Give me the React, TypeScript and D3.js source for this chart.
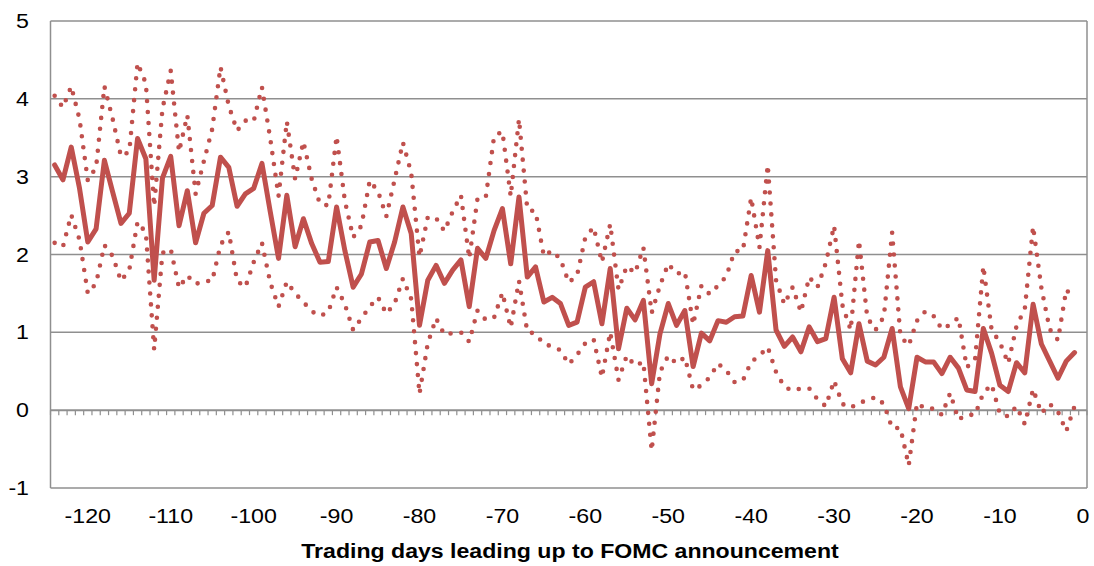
import React from 'react';
import * as d3 from 'd3';

// Categories: trading days -124 .. 0 (0 carries no data)
const days: number[] = d3.range(-124, 1);
const tickDays: number[] = [-120, -110, -100, -90, -80, -70, -60, -50, -40, -30, -20, -10, 0];
const yTicks: number[] = [-1, 0, 1, 2, 3, 4, 5];

// Values for days -124 .. -1
const meanSeries: number[] = [
  3.15, 2.96, 3.38, 2.85, 2.16, 2.33, 3.21, 2.80, 2.40, 2.53,
  3.49, 3.23, 1.67, 2.98, 3.26, 2.37, 2.82, 2.15, 2.53, 2.63,
  3.25, 3.12, 2.62, 2.78, 2.85, 3.17, 2.55, 1.95, 2.76, 2.10,
  2.46, 2.14, 1.90, 1.91, 2.61, 2.05, 1.58, 1.75, 2.16, 2.18,
  1.82, 2.16, 2.61, 2.27, 1.09, 1.67, 1.86, 1.63, 1.80, 1.93,
  1.33, 2.08, 1.95, 2.31, 2.59, 1.88, 2.74, 1.71, 1.84, 1.39,
  1.45, 1.37, 1.09, 1.13, 1.58, 1.65, 1.11, 1.82, 0.79, 1.31,
  1.16, 1.41, 0.34, 0.98, 1.37, 1.09, 1.28, 0.56, 0.99, 0.89,
  1.15, 1.13, 1.20, 1.21, 1.73, 1.26, 2.05, 1.03, 0.82, 0.94,
  0.75, 1.07, 0.88, 0.92, 1.45, 0.66, 0.48, 1.11, 0.63, 0.58,
  0.68, 1.05, 0.30, 0.02, 0.68, 0.62, 0.62, 0.47, 0.68, 0.54,
  0.26, 0.24, 1.05, 0.73, 0.32, 0.24, 0.61, 0.48, 1.36, 0.85,
  0.63, 0.41, 0.63, 0.74,
];

const upperSeries: number[] = [
  4.04, 3.89, 4.16, 3.74, 2.95, 3.12, 4.16, 3.74, 3.26, 3.32,
  4.46, 4.20, 2.62, 3.87, 4.36, 3.32, 3.79, 2.78, 3.20, 3.61,
  4.41, 3.91, 3.59, 3.72, 3.71, 4.15, 3.49, 2.75, 3.71, 2.97,
  3.45, 2.97, 2.65, 2.63, 3.52, 2.69, 2.22, 2.37, 2.95, 2.81,
  2.49, 2.96, 3.44, 3.05, 1.97, 2.48, 2.47, 2.30, 2.55, 2.76,
  1.95, 2.72, 2.74, 3.52, 3.58, 2.75, 3.74, 2.58, 2.55, 1.98,
  2.05, 1.94, 1.64, 1.73, 2.22, 2.35, 1.90, 2.39, 1.55, 1.85,
  1.76, 2.09, 1.25, 1.60, 1.88, 1.75, 1.78, 1.10, 1.60, 1.49,
  1.60, 1.72, 2.04, 2.05, 2.73, 2.09, 3.15, 1.67, 1.36, 1.58,
  1.26, 1.71, 1.58, 1.89, 2.37, 1.35, 1.03, 2.18, 1.19, 1.03,
  1.20, 2.28, 0.95, 0.83, 1.15, 1.27, 1.21, 1.04, 1.10, 1.19,
  0.55, 0.65, 1.85, 1.03, 0.87, 0.60, 1.08, 1.30, 2.36, 1.57,
  1.04, 0.90, 1.55, 1.42,
];

const lowerSeries: number[] = [
  2.15, 2.10, 2.51, 2.19, 1.50, 1.63, 2.12, 1.98, 1.66, 1.80,
  2.42, 2.28, 0.78, 2.02, 2.07, 1.57, 1.73, 1.62, 1.66, 1.66,
  2.12, 2.29, 1.66, 1.58, 1.90, 2.15, 1.64, 1.33, 1.65, 1.50,
  1.39, 1.27, 1.21, 1.26, 1.58, 1.36, 1.03, 1.18, 1.33, 1.45,
  1.24, 1.37, 1.69, 1.43, 0.21, 0.86, 1.18, 0.97, 0.99, 1.00,
  0.88, 1.28, 1.16, 1.19, 1.51, 1.06, 1.66, 1.01, 0.98, 0.85,
  0.82, 0.77, 0.59, 0.71, 0.86, 0.91, 0.42, 1.00, 0.39, 0.70,
  0.57, 0.62, -0.52, 0.49, 0.70, 0.60, 0.68, 0.26, 0.32, 0.42,
  0.60, 0.51, 0.36, 0.38, 0.62, 0.70, 0.81, 0.49, 0.30, 0.25,
  0.28, 0.28, 0.14, 0.05, 0.38, 0.08, 0.03, 0.10, 0.12, 0.17,
  0.08, -0.23, -0.23, -0.71, 0.09, 0.02, 0.02, -0.06, 0.22, -0.12,
  -0.06, -0.06, 0.22, 0.33, -0.05, -0.08, 0.05, -0.18, 0.27, -0.04,
  0.08, -0.02, -0.27, 0.05,
];

const W = 1094;
const H = 566;
const plot = { left: 50.5, right: 1087, top: 21, bottom: 488 };
const RED = '#C0504D';
const GRID = '#8F8F8F';
const FONT = '"Liberation Sans", Arial, sans-serif';
const STRETCH = 1.16; // the original's glyphs are a little wider than tall

export default function App() {
  const x = d3.scaleBand<number>().domain(days).range([plot.left, plot.right]).paddingInner(0).paddingOuter(0);
  const y = d3.scaleLinear().domain([-1, 5]).range([plot.bottom, plot.top]);
  const bw = x.bandwidth();
  const cx = (d: number) => (x(d) as number) + bw / 2;

  const line = d3.line<number>()
    .x((_, i) => cx(days[i]))
    .y((v) => y(v));

  const zeroY = y(0);

  return (
    <svg width={W} height={H} style={{ position: 'absolute', left: 0, top: 0, background: '#fff' }}>
      {/* horizontal gridlines */}
      {yTicks.map((t) => (
        <line key={'g' + t} x1={plot.left} x2={plot.right} y1={y(t)} y2={y(t)}
          stroke={GRID} strokeWidth={t === 0 ? 2 : 1.5} />
      ))}
      {/* plot frame verticals */}
      <line x1={plot.left} x2={plot.left} y1={plot.top} y2={plot.bottom} stroke={GRID} strokeWidth={1.5} />
      <line x1={plot.right} x2={plot.right} y1={plot.top} y2={plot.bottom} stroke={GRID} strokeWidth={1.5} />

      {/* category tick marks on the zero axis */}
      {days.map((d) => (
        <line key={'t' + d} x1={x(d) as number} x2={x(d) as number}
          y1={zeroY} y2={zeroY + 5} stroke={GRID} strokeWidth={1.2} />
      ))}
      <line x1={plot.right} x2={plot.right} y1={zeroY} y2={zeroY + 5} stroke={GRID} strokeWidth={1.2} />

      {/* y labels */}
      {yTicks.map((t) => (
        <text key={'yl' + t} transform={`translate(29,${y(t) + 7}) scale(${STRETCH},1)`} textAnchor="end"
          fontFamily={FONT} fontSize={20} fill="#000">{t}</text>
      ))}

      {/* x labels */}
      {tickDays.map((d) => (
        <text key={'xl' + d} transform={`translate(${cx(d)},523) scale(${STRETCH},1)`} textAnchor="middle"
          fontFamily={FONT} fontSize={20} fill="#000">{d}</text>
      ))}

      {/* confidence bands */}
      <path d={line(upperSeries) || ''} fill="none" stroke={RED} strokeWidth={4.6}
        strokeDasharray="0 11" strokeLinecap="round" strokeLinejoin="round" />
      <path d={line(lowerSeries) || ''} fill="none" stroke={RED} strokeWidth={4.6}
        strokeDasharray="0 11" strokeLinecap="round" strokeLinejoin="round" />

      {/* mean */}
      <path d={line(meanSeries) || ''} fill="none" stroke={RED} strokeWidth={5}
        strokeLinejoin="round" strokeLinecap="round" />

      <text transform={`translate(570,558) scale(1.1,1)`} textAnchor="middle" fontFamily={FONT} fontWeight="bold"
        fontSize={21} fill="#000">Trading days leading up to FOMC announcement</text>
    </svg>
  );
}
